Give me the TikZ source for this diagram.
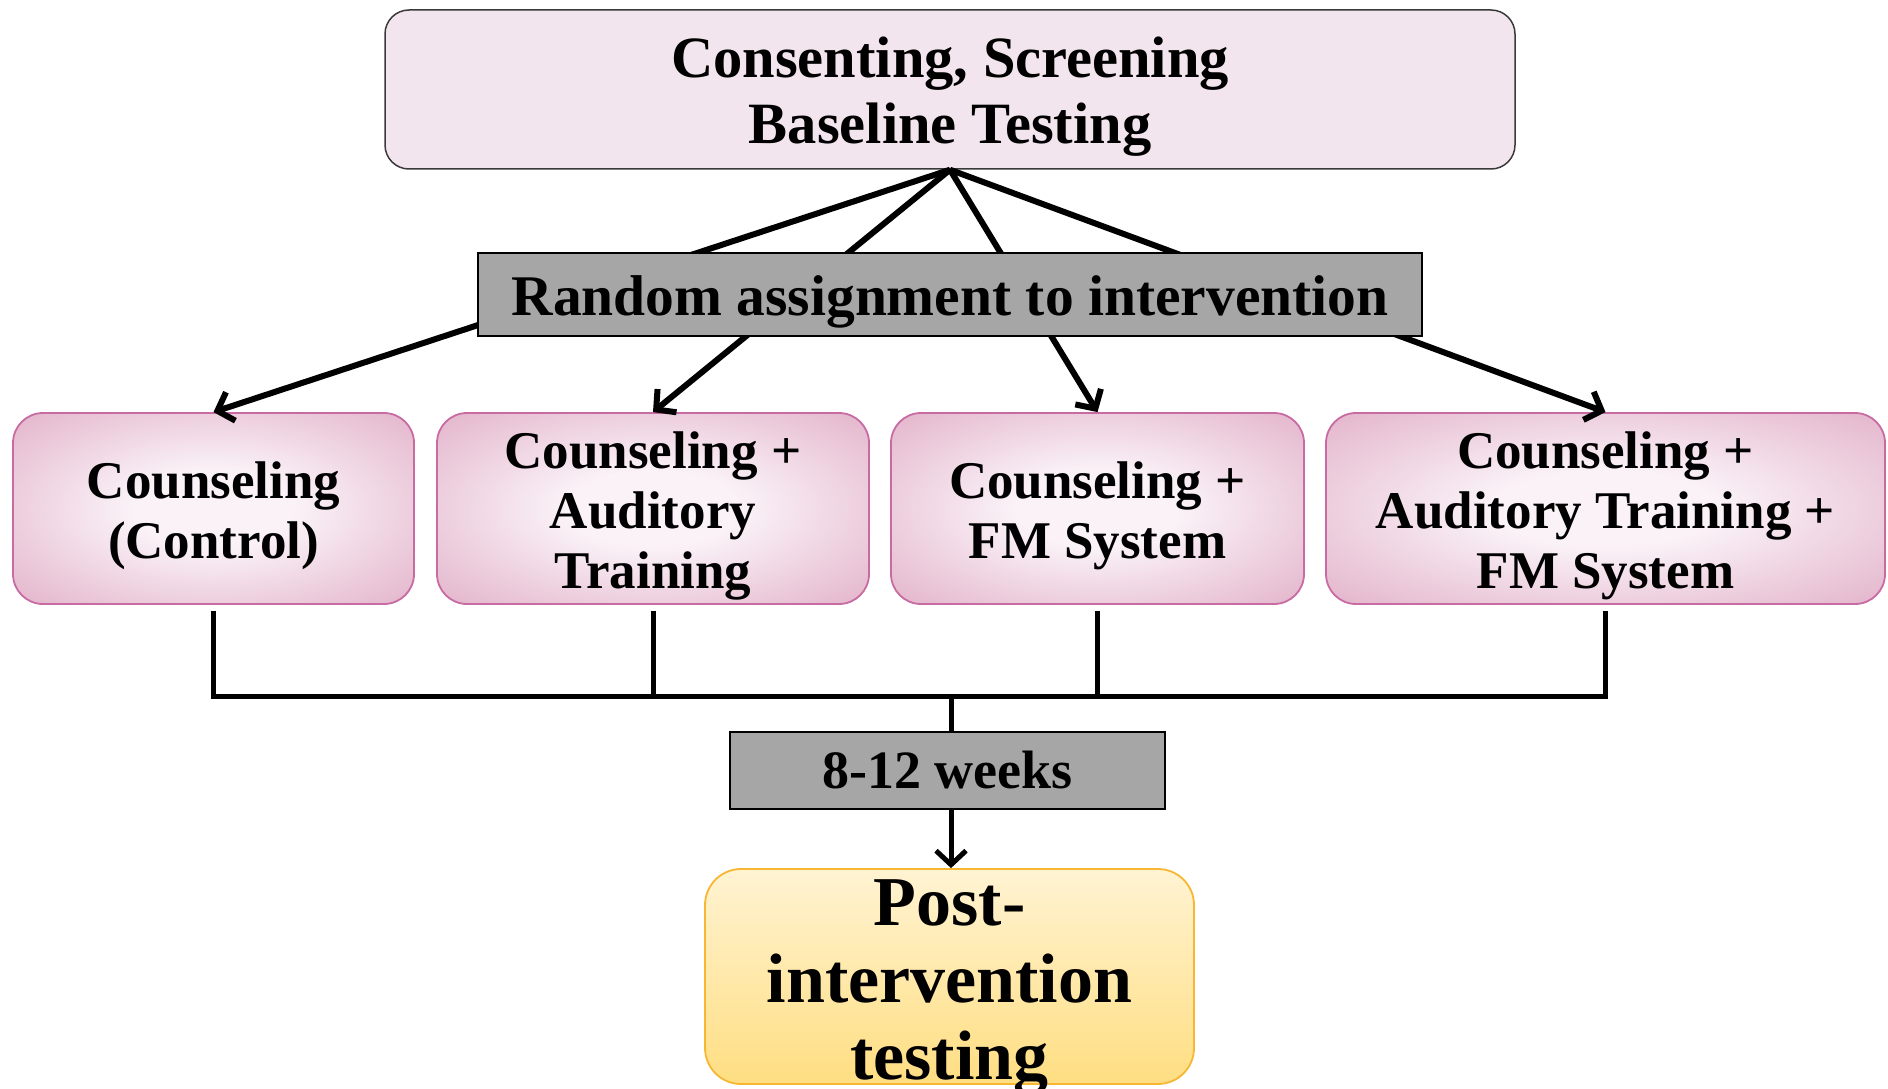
\documentclass[tikz,border=0pt]{standalone}
\usepackage{fontspec}
\setmainfont{Liberation Serif}
\usetikzlibrary{arrows.meta}
\definecolor{topfill}{HTML}{F3E5ED}
\definecolor{topline}{HTML}{3A3A3A}
\definecolor{grayfill}{HTML}{A6A6A6}
\definecolor{pinkin}{HTML}{FAF2F7}
\definecolor{pinkout}{HTML}{DFA9C3}
\definecolor{pinkline}{HTML}{C96BA3}
\definecolor{yeltop}{HTML}{FFF3D2}
\definecolor{yelbot}{HTML}{FFDE82}
\definecolor{yelline}{HTML}{F7B733}
\newcommand{\upstrut}[1]{\rule{0pt}{#1pt}}
\pgfdeclareradialshading{pinkglow}{\pgfpoint{0bp}{0bp}}{color(0bp)=(pinkin); color(10bp)=(pinkin); color(40bp)=(pinkout); color(80bp)=(pinkout)}
\tikzset{
  topbox/.style={draw=topline, line width=1.5pt, fill=topfill, rounded corners=24pt, minimum width=1130pt, minimum height=159pt, inner sep=0pt, align=center, font=\bfseries\fontsize{58.5}{66}\selectfont},
  graybox/.style={draw=black, line width=2pt, fill=grayfill, inner sep=0pt, align=center},
  pinkbox/.style={draw=pinkline, line width=1.8pt, shading=pinkglow, rounded corners=30pt, minimum height=191pt, inner sep=0pt, align=center, font=\bfseries\fontsize{53}{60}\selectfont},
  yelbox/.style={draw=yelline, line width=1.8pt, top color=yeltop, bottom color=yelbot, rounded corners=36pt, minimum width=489pt, minimum height=215pt, inner sep=0pt, font=\bfseries\fontsize{70}{77}\selectfont},
  conn/.style={line width=6pt, draw=black},
  bus/.style={line width=5pt, draw=black},
  tip/.style={-{Straight Barb[length=14pt,width=30pt,line width=6pt]}}
}
\begin{document}
\begin{tikzpicture}[x=1pt,y=-1pt]
\useasboundingbox (0,0) rectangle (1888,1089);
\node[topbox] (top) at (950,89.5) {\upstrut{55}Consenting, Screening\\Baseline Testing};
\node[pinkbox, minimum width=401pt] (c1) at (213.5,508.5) {\upstrut{51}Counseling\\(Control)};
\node[pinkbox, minimum width=432pt] (c2) at (653,508.5) {\upstrut{51}Counseling +\\Auditory\\Training};
\node[pinkbox, minimum width=413pt] (c3) at (1097.5,508.5) {\upstrut{51}Counseling +\\FM System};
\node[pinkbox, minimum width=559pt] (c4) at (1605.5,508.5) {\upstrut{51}Counseling +\\Auditory Training +\\FM System};
\draw[conn, tip] (top.south) -- (c1.north);
\draw[conn, tip] (top.south) -- (c2.north);
\draw[conn, tip] (top.south) -- (c3.north);
\draw[conn, tip] (top.south) -- (c4.north);
\node[graybox, minimum width=944pt, minimum height=83pt, font=\bfseries\fontsize{57.5}{60}\selectfont] (rand) at (950,294.5) {\upstrut{54}Random assignment to intervention};
\node[graybox, minimum width=435pt, minimum height=77pt, font=\bfseries\fontsize{54}{60}\selectfont] (weeks) at (947.5,770.5) {8-12 weeks};
\node[yelbox] (post) at (949.5,976.5) {\raisebox{-17pt}[0pt][0pt]{\begin{tabular}{@{}c@{}}Post-\\intervention\\testing\end{tabular}}};
\coordinate (hub) at (951,696);
\draw[bus] ([yshift=-6pt]c1.south) -- (c1.south |- hub) -- (c4.south |- hub) -- ([yshift=-6pt]c4.south);
\draw[bus] ([yshift=-6pt]c2.south) -- (c2.south |- hub);
\draw[bus] ([yshift=-6pt]c3.south) -- (c3.south |- hub);
\draw[bus] (hub) -- (hub |- weeks.north);
\draw[bus, -{Straight Barb[length=14pt,width=30pt,line width=5pt]}] (hub |- weeks.south) -- (hub |- post.north);
\end{tikzpicture}
\end{document}
